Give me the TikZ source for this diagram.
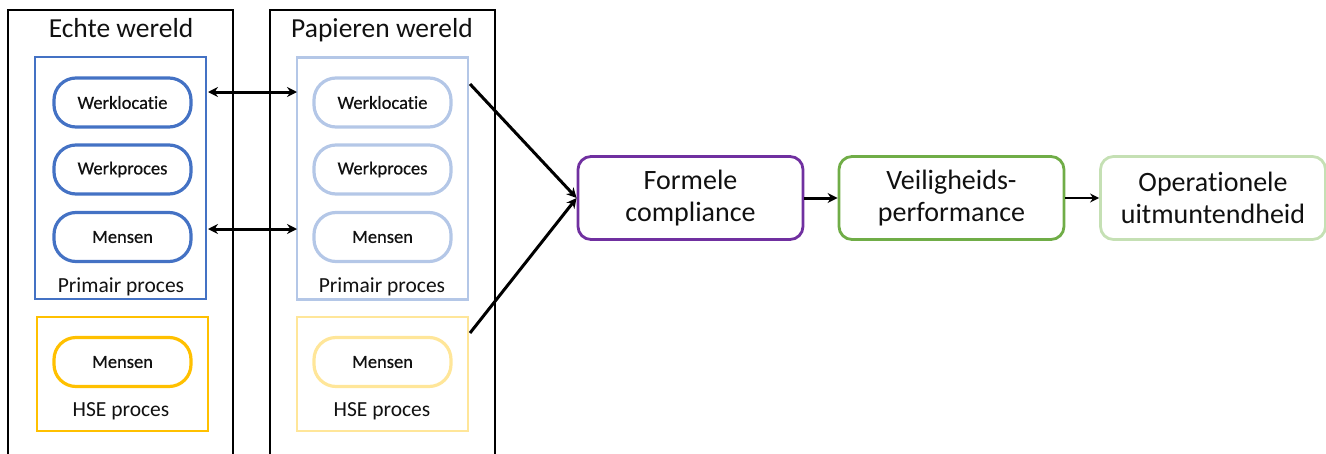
\documentclass[tikz,border=0pt]{standalone}
\usepackage{fontspec}
\setmainfont{Carlito}[Ligatures=NoCommon]
\newfontfamily\pillfont{Carlito}[Ligatures=NoCommon,FakeBold=0.6]
\usetikzlibrary{arrows.meta}
\definecolor{cblue}{HTML}{4472C4}
\definecolor{clblue}{HTML}{B4C7E7}
\definecolor{cyel}{HTML}{FFC000}
\definecolor{clyel}{HTML}{FFE699}
\definecolor{cpurp}{HTML}{7030A0}
\definecolor{cgreen}{HTML}{70AD47}
\definecolor{clgreen}{HTML}{C5E0B4}
\definecolor{ctext}{HTML}{111111}
\begin{document}
\begin{tikzpicture}[x=1pt,y=-1pt,
  world/.style={draw=black,line width=2.8pt},
  grp/.style={line width=2.6pt},
  pill/.style={draw,line width=3.2pt,rounded corners=22pt,minimum width=137pt,minimum height=49pt,font=\pillfont\fontsize{18.5}{21}\selectfont,text=ctext,inner sep=0pt},
  bigbox/.style={draw,line width=2.8pt,rounded corners=13pt,minimum width=225pt,minimum height=83pt,align=center,font=\fontsize{28}{32}\selectfont,text=ctext,inner sep=0pt},
  title/.style={font=\fontsize{27.5}{30}\selectfont,text=ctext,anchor=base},
  glabel/.style={font=\fontsize{21.5}{24}\selectfont,text=ctext,anchor=base},
  arr/.style={line width=3pt,-{Stealth[length=10pt,width=10pt]}},
  darr/.style={line width=3pt,{Stealth[length=10pt,width=10pt]}-{Stealth[length=10pt,width=10pt]}}
]
\useasboundingbox (0,0) rectangle (1326,453);
% worlds
\draw[world] (8,10) rectangle (233,460);
\draw[world] (270,10) rectangle (495,460);
\node[title] (t1) at (121,37) {Echte wereld};
\node[title] (t2) at (382,37) {Papieren wereld};
% left groups
\node[grp,draw=cblue,minimum width=171pt,minimum height=242pt,inner sep=0pt] (lp) at (120.5,178) {};
\node[grp,draw=cyel,minimum width=171pt,minimum height=114pt,inner sep=0pt] (ly) at (122.5,374) {};
\node[glabel] (lpl) at (121,292) {Primair proces};
\node[glabel] (lyl) at (121,416) {HSE proces};
\node[pill,draw=cblue] (l1) at (122.5,102.5) {Werklocatie};
\node[pill,draw=cblue] (l2) at (122.5,169.5) {Werkproces};
\node[pill,draw=cblue] (l3) at (122.5,237) {Mensen};
\node[pill,draw=cyel] (l4) at (122.5,362) {Mensen};
% right groups
\node[grp,draw=clblue,minimum width=171pt,minimum height=242pt,inner sep=0pt] (rp) at (382.5,178.5) {};
\node[grp,draw=clyel,minimum width=171pt,minimum height=114pt,inner sep=0pt] (ry) at (382.5,374) {};
\node[glabel] (rpl) at (382,292) {Primair proces};
\node[glabel] (ryl) at (382,416) {HSE proces};
\node[pill,draw=clblue] (r1) at (382.5,102.5) {Werklocatie};
\node[pill,draw=clblue] (r2) at (382.5,169.5) {Werkproces};
\node[pill,draw=clblue] (r3) at (382.5,237) {Mensen};
\node[pill,draw=clyel] (r4) at (382.5,362) {Mensen};
% big boxes
\node[bigbox,draw=cpurp] (fc) at (690.5,198) {Formele\\compliance};
\node[bigbox,draw=cgreen] (vp) at (951.5,198) {Veiligheids-\\performance};
\node[bigbox,draw=clgreen] (ou) at (1213,198) {Operationele\\uitmuntendheid};
% arrows
\coordinate (a1) at (208,92);
\coordinate (b1) at (297,92);
\coordinate (a2) at (208,229);
\coordinate (b2) at (297,229);
\draw[darr] (a1) -- (b1);
\draw[darr] (a2) -- (b2);
\coordinate (c1) at (470,84);
\coordinate (c2) at (470,333);
\draw[arr] (c1) -- (fc.west);
\draw[arr] (c2) -- (fc.west);
\draw[arr] (fc.east) -- (vp.west);
\draw[line width=2.2pt,-{Stealth[length=9pt,width=9pt]}] (vp.east) -- (ou.west);
\end{tikzpicture}
\end{document}
